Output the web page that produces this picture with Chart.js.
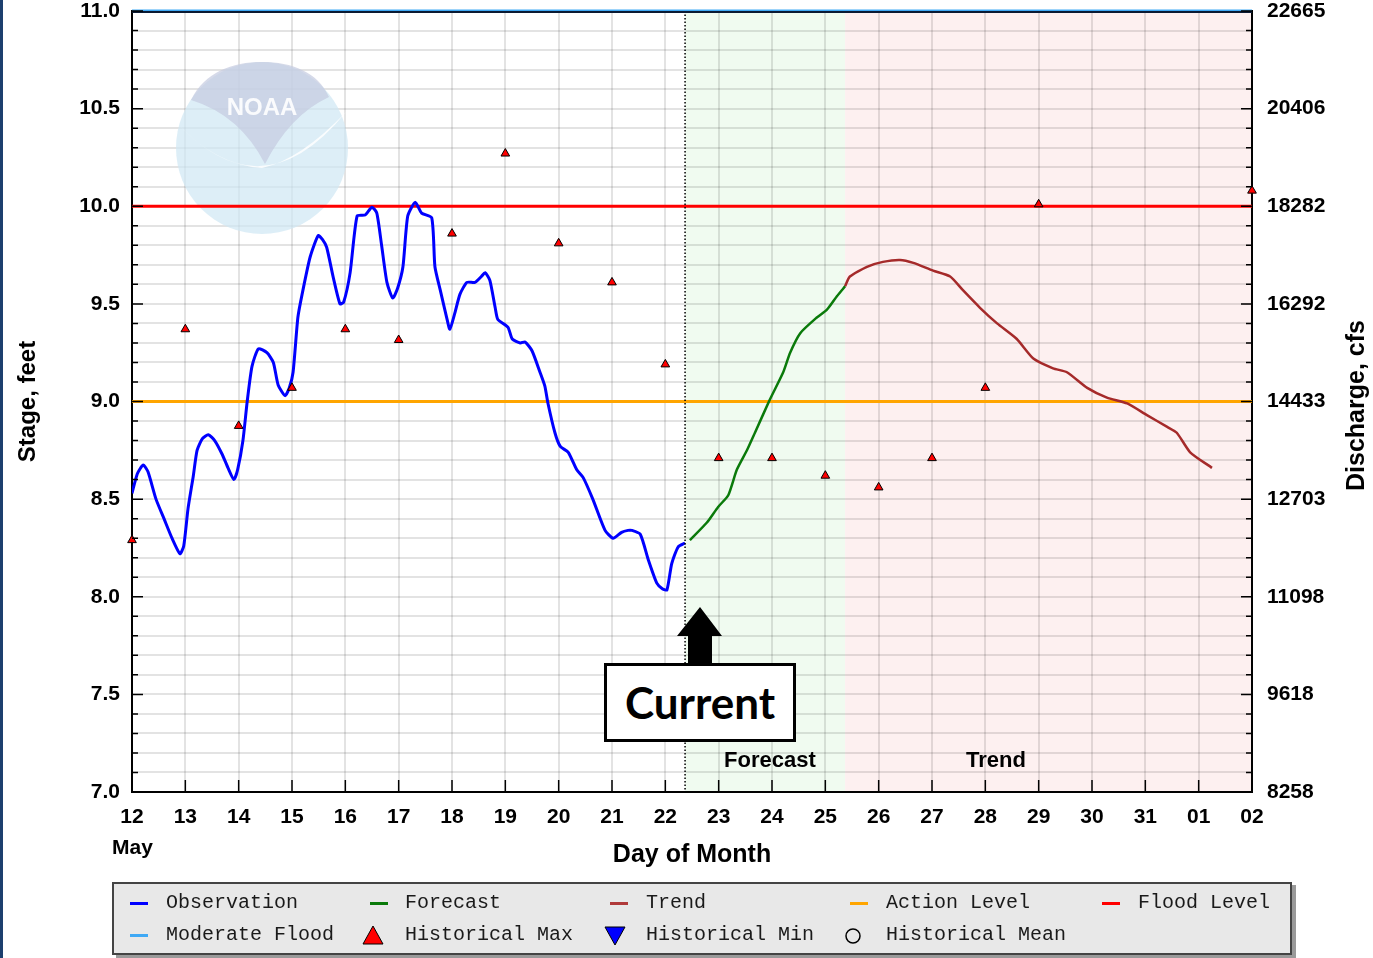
<!DOCTYPE html>
<html><head><meta charset="utf-8">
<script src="https://cdn.jsdelivr.net/npm/chart.js@4.4.1/dist/chart.umd.min.js"></script>
<style>
html,body{margin:0;padding:0;background:#fff;}
#wrap{position:relative;width:1373px;height:958px;overflow:hidden;background:#fff;}
#c{position:absolute;left:0;top:0;}
.edge{position:absolute;left:0;top:0;width:3px;height:958px;background:#1c3f6e;}
#legend{position:absolute;left:112px;top:882px;width:1176px;height:69px;background:#e8e8e8;border:2px solid #444;box-shadow:4px 3px 0 #9a9a9a;font-family:"Liberation Mono","DejaVu Sans Mono",monospace;font-size:20px;color:#1a1a1a;}
.li{position:absolute;white-space:nowrap;line-height:24px;}
.sw{position:absolute;width:18px;height:3px;}
.sym{position:absolute;}
#current{position:absolute;left:604px;top:663px;width:192px;height:79px;box-sizing:border-box;border:3px solid #000;background:#fff;font-family:Lato,"Open Sans",sans-serif;font-weight:bold;font-size:44px;line-height:73px;text-align:center;color:#000;}
#arrow{position:absolute;left:0;top:0;}
</style>
</head><body>
<div id="wrap">
<canvas id="c" width="1373" height="958"></canvas>
<div class="edge"></div>
<svg id="arrow" width="1373" height="958"><polygon points="700,607 677,636 688,636 688,664 712,664 712,636 722,636" fill="#000"/></svg>
<div id="current">Current</div>
<div id="legend">
  <div class="sw" style="left:16px;top:18px;background:#0000ff"></div><div class="li" style="left:52px;top:7px">Observation</div>
  <div class="sw" style="left:256px;top:18px;background:#0a7a0a"></div><div class="li" style="left:291px;top:7px">Forecast</div>
  <div class="sw" style="left:496px;top:18px;background:#b03a3a"></div><div class="li" style="left:532px;top:7px">Trend</div>
  <div class="sw" style="left:736px;top:18px;background:#ffa500"></div><div class="li" style="left:772px;top:7px">Action Level</div>
  <div class="sw" style="left:988px;top:18px;background:#ff0000"></div><div class="li" style="left:1024px;top:7px">Flood Level</div>
  <div class="sw" style="left:16px;top:50px;background:#3fa9f5"></div><div class="li" style="left:52px;top:39px">Moderate Flood</div>
  <svg class="sym" style="left:248px;top:41px" width="22" height="20"><polygon points="11,1 21,19 1,19" fill="#ff0000" stroke="#000" stroke-width="1"/></svg><div class="li" style="left:291px;top:39px">Historical Max</div>
  <svg class="sym" style="left:490px;top:42px" width="22" height="20"><polygon points="1,1 21,1 11,19" fill="#0000ff" stroke="#000" stroke-width="1"/></svg><div class="li" style="left:532px;top:39px">Historical Min</div>
  <svg class="sym" style="left:730px;top:43px" width="18" height="18"><circle cx="9" cy="9" r="7" fill="none" stroke="#000" stroke-width="1.5"/></svg><div class="li" style="left:772px;top:39px">Historical Mean</div>
</div>
</div>
<script>
// ---- data ----
const dayLabels = ['12','13','14','15','16','17','18','19','20','21','22','23','24','25','26','27','28','29','30','31','01','02'];
const monthLabel = 'May';
const stageMin = 7.0, stageMax = 11.0;
const stageTickLabels = ['7.0','7.5','8.0','8.5','9.0','9.5','10.0','10.5','11.0'];
const dischargeTickLabels = ['8258','9618','11098','12703','14433','16292','18282','20406','22665'];

const obsDay = [0.00,0.10,0.21,0.30,0.45,0.60,0.75,0.90,0.97,1.05,1.15,1.22,1.32,1.43,1.55,1.69,1.80,1.91,1.98,2.08,2.16,2.25,2.37,2.53,2.65,2.74,2.87,2.95,3.02,3.11,3.19,3.34,3.49,3.57,3.65,3.77,3.90,3.97,4.09,4.22,4.37,4.50,4.59,4.68,4.78,4.89,4.98,5.08,5.17,5.31,5.43,5.62,5.68,5.78,5.90,5.96,6.05,6.15,6.28,6.43,6.55,6.62,6.71,6.81,6.86,7.05,7.13,7.28,7.37,7.50,7.65,7.74,7.80,7.93,8.03,8.18,8.34,8.46,8.64,8.87,9.02,9.18,9.30,9.37,9.53,9.68,9.84,9.95,10.03,10.12,10.24,10.37];
const obsStage = [8.53,8.63,8.675,8.64,8.50,8.40,8.30,8.22,8.26,8.45,8.62,8.75,8.81,8.83,8.80,8.73,8.66,8.60,8.65,8.80,9.00,9.18,9.27,9.25,9.20,9.085,9.03,9.07,9.15,9.43,9.55,9.74,9.85,9.83,9.79,9.64,9.50,9.51,9.66,9.95,9.955,9.995,9.965,9.80,9.61,9.53,9.58,9.69,9.95,10.02,9.965,9.94,9.69,9.57,9.43,9.37,9.45,9.55,9.61,9.61,9.64,9.66,9.62,9.48,9.42,9.38,9.32,9.30,9.305,9.26,9.15,9.08,8.99,8.84,8.77,8.74,8.65,8.61,8.50,8.34,8.30,8.33,8.34,8.34,8.32,8.19,8.07,8.04,8.035,8.17,8.255,8.275];

const fcDay = [10.46,10.78,10.99,11.18,11.34,11.53,11.68,11.96,12.21,12.34,12.53,12.84,13.03,13.22,13.37];
const fcStage = [8.29,8.38,8.46,8.52,8.65,8.75,8.84,9.01,9.15,9.25,9.35,9.43,9.47,9.54,9.59];

const trDay = [13.37,13.46,13.78,14.08,14.40,14.65,15.02,15.34,15.58,15.90,16.22,16.59,16.90,17.27,17.53,17.91,18.28,18.66,19.03,19.41,19.59,19.84,20.25];
const trStage = [9.59,9.64,9.69,9.715,9.725,9.71,9.67,9.64,9.57,9.48,9.40,9.32,9.22,9.17,9.15,9.07,9.02,8.99,8.93,8.87,8.84,8.74,8.66];

const histMaxStage = [8.29,9.37,8.875,9.07,9.37,9.315,9.86,10.27,9.81,9.61,9.19,8.71,8.71,8.62,8.56,8.71,9.07,10.01,null,null,null,10.08];

const actionLevel = 9.0, floodLevel = 10.0, moderateFlood = 11.0;
const currentDay = 10.37, forecastEnd = 13.37, lastDay = 21;

// ---- helpers ----
const pts = (xs, ys) => xs.map((x,i)=>({x, y: ys[i]}));
const level = v => [{x:0,y:v},{x:lastDay,y:v}];
const tickIdx = v => Math.round((v - stageMin) * 10);

const bgPlugin = {
  id:'bg',
  beforeDraw(chart){
    const {ctx, chartArea:a, scales:{x}} = chart;
    const x1 = x.getPixelForValue(currentDay), x2 = x.getPixelForValue(forecastEnd);
    ctx.save();
    ctx.fillStyle = '#f0fbf0'; ctx.fillRect(x1, a.top, x2-x1, a.bottom-a.top);
    ctx.fillStyle = '#fdf0f0'; ctx.fillRect(x2, a.top, a.right-x2, a.bottom-a.top);
    ctx.restore();
  },
  beforeDatasetsDraw(chart){
    const ctx = chart.ctx;
    const cx=262, cy=148, r=86;
    ctx.save();
    ctx.globalAlpha = 0.7;
    ctx.beginPath(); ctx.arc(cx,cy,r,0,Math.PI*2); ctx.fillStyle='rgb(206,231,244)'; ctx.fill();
    ctx.beginPath();
    ctx.moveTo(176,122); ctx.quadraticCurveTo(262,215,346,112);
    ctx.quadraticCurveTo(300,160,262,168); ctx.quadraticCurveTo(215,165,176,122);
    ctx.fillStyle='#ffffff'; ctx.globalAlpha=0.85; ctx.fill();
    ctx.globalAlpha = 0.7;
    ctx.beginPath();
    ctx.moveTo(191,100);
    ctx.bezierCurveTo(205,72,232,62,262,62);
    ctx.bezierCurveTo(292,62,318,72,329,97);
    ctx.quadraticCurveTo(290,115,265,164);
    ctx.quadraticCurveTo(240,115,191,100);
    ctx.fillStyle='rgb(196,202,224)'; ctx.fill();
    ctx.fillStyle='#ffffff'; ctx.globalAlpha=0.9;
    ctx.font='bold 24px "Liberation Sans Narrow","Liberation Sans",sans-serif';
    ctx.textAlign='center'; ctx.textBaseline='middle';
    ctx.fillText('NOAA', 262, 108);
    ctx.restore();
  },
  afterDatasetsDraw(chart){
    const {ctx, chartArea:a, scales:{x,y}} = chart;
    ctx.save();
    const cxp = x.getPixelForValue(currentDay);
    ctx.strokeStyle='#000'; ctx.lineWidth=1.5; ctx.setLineDash([1.5,2]);
    ctx.beginPath(); ctx.moveTo(cxp,a.top); ctx.lineTo(cxp,a.bottom); ctx.stroke();
    ctx.setLineDash([]);
    ctx.strokeStyle='#0a1a33'; ctx.lineWidth=2;
    ctx.beginPath(); ctx.moveTo(a.left,a.top+1); ctx.lineTo(a.right,a.top+1); ctx.stroke();
    ctx.strokeStyle='#000'; ctx.lineWidth=1.5;
    for(let k=0;k<=40;k++){
      const py = y.getPixelForValue(stageMin + k*0.1);
      const L = (k%5===0)?11:6;
      ctx.beginPath(); ctx.moveTo(a.left,py); ctx.lineTo(a.left+L,py);
      ctx.moveTo(a.right,py); ctx.lineTo(a.right-L,py); ctx.stroke();
    }
    for(let d=0; d<=lastDay; d++){
      const px = x.getPixelForValue(d);
      ctx.beginPath(); ctx.moveTo(px,a.bottom); ctx.lineTo(px,a.bottom-12); ctx.stroke();
    }
    ctx.restore();
  },
  afterDraw(chart){
    const {ctx, chartArea:a, scales:{x}} = chart;
    ctx.save();
    ctx.fillStyle='#000';
    ctx.font='bold 22px "Liberation Sans",Arial,sans-serif';
    ctx.textBaseline='middle'; ctx.textAlign='center';
    ctx.fillText('Forecast', x.getPixelForValue(11.96), 761);
    ctx.fillText('Trend', x.getPixelForValue(16.2), 761);
    ctx.textAlign='left';
    ctx.font='bold 21px "Liberation Sans",Arial,sans-serif';
    ctx.fillText(monthLabel, 112, 848);
    ctx.translate(1357, (a.top+a.bottom)/2 + 4);
    ctx.rotate(-Math.PI/2);
    ctx.textAlign='center';
    ctx.font='bold 25px "Liberation Sans",Arial,sans-serif';
    ctx.fillText('Discharge, cfs', 0, 0);
    ctx.restore();
  }
};

const tickFont = {family:'"Liberation Sans",Arial,sans-serif', size:21, weight:'bold'};
const titleFont = {family:'"Liberation Sans",Arial,sans-serif', size:25, weight:'bold'};
const noPadV = s => { s.paddingTop = 0; s.paddingBottom = 0; };

new Chart(document.getElementById('c'), {
  type:'line',
  data:{datasets:[
    {label:'Historical Max', data: histMaxStage.map((v,i)=>({x:i,y:v})), showLine:false, pointStyle:'triangle', pointRadius:5, pointBackgroundColor:'#ff0000', pointBorderColor:'#000', pointBorderWidth:1, clip:false},
    {label:'Observation', data: pts(obsDay, obsStage), borderColor:'#0000ff', borderWidth:3, pointRadius:0, tension:0.2},
    {label:'Forecast', data: pts(fcDay, fcStage), borderColor:'#0a7a0a', borderWidth:2.5, pointRadius:0, tension:0.2},
    {label:'Trend', data: pts(trDay, trStage), borderColor:'#a52a2a', borderWidth:2.5, pointRadius:0, tension:0.2},
    {label:'Flood Level', data: level(floodLevel), borderColor:'#ff0000', borderWidth:3, pointRadius:0},
    {label:'Action Level', data: level(actionLevel), borderColor:'#ffa500', borderWidth:3, pointRadius:0},
    {label:'Moderate Flood', data: level(moderateFlood), borderColor:'#3fa9f5', borderWidth:3, pointRadius:0, clip:false}
  ]},
  options:{
    responsive:false, animation:false,
    layout:{padding:{top:11,right:0,bottom:88,left:0}},
    plugins:{legend:{display:false}, tooltip:{enabled:false}},
    scales:{
      x:{type:'linear', min:0, max:lastDay,
        afterFit(s){ s.height = 78; s.paddingLeft = 0; s.paddingRight = 0; },
        ticks:{stepSize:1, autoSkip:false, maxRotation:0, padding:13, color:'#000', font:tickFont,
          callback:(v)=> dayLabels[Math.round(v)] ?? ''},
        grid:{color:'rgba(0,0,0,0.11)', lineWidth:2, drawTicks:false},
        border:{display:true, color:'#000', width:2},
        title:{display:true, text:'Day of Month', color:'#000', font:titleFont, padding:{top:0,bottom:0}}
      },
      y:{type:'linear', position:'left', min:stageMin, max:stageMax,
        afterFit(s){ s.width = 132; noPadV(s); },
        ticks:{stepSize:0.1, autoSkip:false, padding:12, color:'#000', font:tickFont,
          callback:(v)=>{const k=tickIdx(v); return k%5===0 ? stageTickLabels[k/5] : '';}},
        grid:{color:'rgba(0,0,0,0.11)', lineWidth:2, drawTicks:false},
        border:{display:true, color:'#000', width:2},
        title:{display:true, text:'Stage, feet', color:'#000', font:{family:'"Liberation Sans",Arial,sans-serif', size:24, weight:'bold'}, padding:{top:14,bottom:0}}
      },
      y2:{type:'linear', position:'right', min:stageMin, max:stageMax,
        afterFit(s){ s.width = 121; noPadV(s); },
        ticks:{stepSize:0.1, autoSkip:false, padding:15, color:'#000', font:tickFont,
          callback:(v)=>{const k=tickIdx(v); return k%5===0 ? dischargeTickLabels[k/5] : '';}},
        grid:{display:false, drawTicks:false},
        border:{display:true, color:'#000', width:2}
      }
    }
  },
  plugins:[bgPlugin]
});
</script>
</body></html>
